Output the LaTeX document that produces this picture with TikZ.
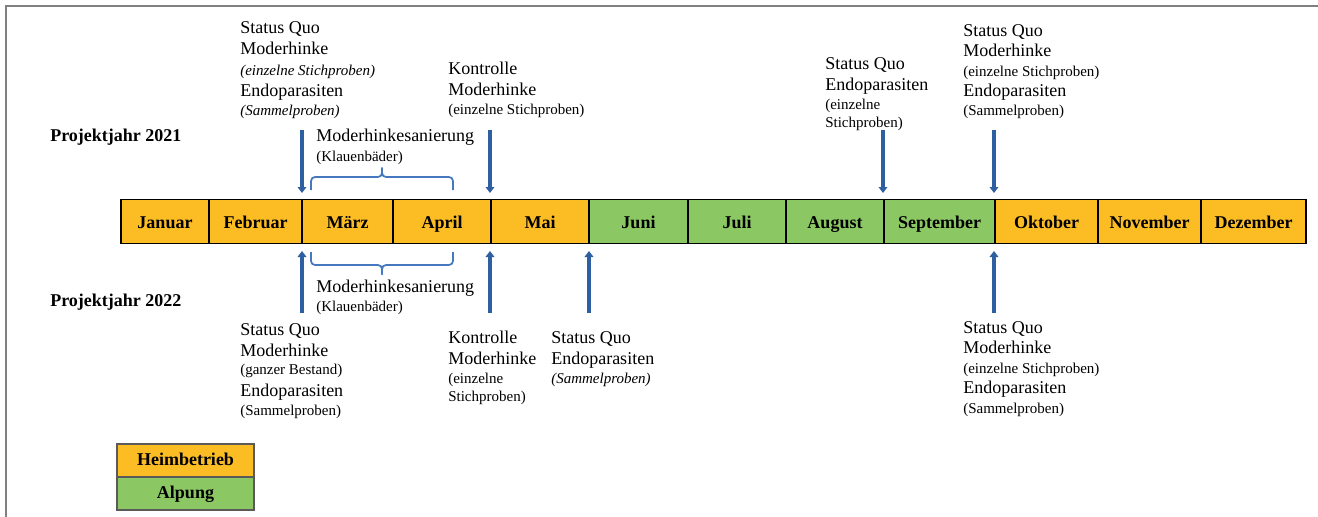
\documentclass[tikz,border=0pt]{standalone}
\usepackage{fontspec}
\setmainfont{Liberation Serif}
\usetikzlibrary{arrows.meta}
\definecolor{hb}{RGB}{252,189,36}
\definecolor{alp}{RGB}{139,200,99}
\definecolor{arrblue}{RGB}{46,95,160}
\definecolor{brblue}{RGB}{70,120,192}
\definecolor{framegray}{RGB}{128,128,128}
\definecolor{leggray}{RGB}{90,90,90}
\tikzset{
  txt/.style={anchor=west, inner sep=0pt, text height=0.68em, text depth=0pt},
  big/.style={txt, font=\fontsize{13.5}{16}\selectfont},
  sm/.style={txt, font=\fontsize{11.25}{13}\selectfont},
  smit/.style={txt, font=\fontsize{11.25}{13}\selectfont\itshape},
  yearlbl/.style={txt, font=\fontsize{13.5}{16}\selectfont\bfseries},
  monthtxt/.style={font=\fontsize{13.5}{16}\selectfont\bfseries, inner sep=0pt, text height=0.68em, text depth=0pt},
  mbox/.style={draw=black, line width=1.2pt},
  evarrow/.style={draw=arrblue, line width=2.3pt, -{Triangle[width=6.5pt,length=4.5pt]}},
  brace/.style={draw=brblue, line width=1.3pt, rounded corners=3pt},
  legbox/.style={draw=leggray, line width=1.2pt, minimum width=102.75pt, minimum height=24.75pt, inner sep=0pt, text height=0.68em, text depth=0pt, font=\fontsize{13.5}{16}\selectfont\bfseries}
}
\begin{document}
\begin{tikzpicture}[x=0.75pt,y=-0.75pt]
\useasboundingbox (0,0) rectangle (1318,517);
% frame
\draw[framegray, line width=1.5pt] (5.5,517) -- (5.5,6) -- (1318,6);

% months
\foreach \l/\r/\n/\c [count=\i] in {121/209/Januar/hb, 209/302/Februar/hb, 302/393/März/hb, 393/491/April/hb, 491/589/Mai/hb, 589/688/Juni/alp, 688/786/Juli/alp, 786/884/August/alp, 884/995/September/alp, 995/1098/Oktober/hb, 1098/1201/November/hb, 1201/1306/Dezember/hb}{
  \path[mbox, fill=\c] (\l,199.5) rectangle (\r,243.5);
  \node[monthtxt] (m\i) at ({(\l+\r)/2},223.5) {\n};
}

% year labels
\node[yearlbl] (y21) at (50,137) {Projektjahr 2021};
\node[yearlbl] (y22) at (50,302) {Projektjahr 2022};

% ---- 2021 texts
\node[big]  (t1a) at (240,29) {Status Quo};
\node[big]  (t1b) at (240,50) {Moderhinke};
\node[smit] (t1c) at (240,71) {(einzelne Stichproben)};
\node[big]  (t1d) at (240,92) {Endoparasiten};
\node[smit] (t1e) at (240,111) {(Sammelproben)};

\node[big] (t2a) at (448,70) {Kontrolle};
\node[big] (t2b) at (448,91) {Moderhinke};
\node[sm]  (t2c) at (448,110) {(einzelne Stichproben)};

\node[big] (t3a) at (316,137) {Moderhinkesanierung};
\node[sm]  (t3b) at (316,157) {(Klauenbäder)};

\node[big] (t4a) at (825,65) {Status Quo};
\node[big] (t4b) at (825,86) {Endoparasiten};
\node[sm]  (t4c) at (825,105) {(einzelne};
\node[sm]  (t4d) at (825,123) {Stichproben)};

\node[big] (t5a) at (963,32) {Status Quo};
\node[big] (t5b) at (963,52) {Moderhinke};
\node[sm]  (t5c) at (963,72) {(einzelne Stichproben)};
\node[big] (t5d) at (963,92) {Endoparasiten};
\node[sm]  (t5e) at (963,111) {(Sammelproben)};

% ---- 2022 texts
\node[big] (b3a) at (316,288) {Moderhinkesanierung};
\node[sm]  (b3b) at (316,307) {(Klauenbäder)};

\node[big] (b1a) at (240,331) {Status Quo};
\node[big] (b1b) at (240,352) {Moderhinke};
\node[sm]  (b1c) at (240,370) {(ganzer Bestand)};
\node[big] (b1d) at (240,392) {Endoparasiten};
\node[sm]  (b1e) at (240,411) {(Sammelproben)};

\node[big] (b2a) at (448,339) {Kontrolle};
\node[big] (b2b) at (448,360) {Moderhinke};
\node[sm]  (b2c) at (448,379) {(einzelne};
\node[sm]  (b2d) at (448,397) {Stichproben)};

\node[big]  (b4a) at (551,339) {Status Quo};
\node[big]  (b4b) at (551,360) {Endoparasiten};
\node[smit] (b4c) at (551,379) {(Sammelproben)};

\node[big] (b5a) at (963,329) {Status Quo};
\node[big] (b5b) at (963,349) {Moderhinke};
\node[sm]  (b5c) at (963,369) {(einzelne Stichproben)};
\node[big] (b5d) at (963,389) {Endoparasiten};
\node[sm]  (b5e) at (963,409) {(Sammelproben)};

% arrows 2021
\foreach \x [count=\k] in {302,490,883,994}{
  \coordinate (ts\k) at (\x,130);
  \coordinate (te\k) at (\x,193);
  \draw[evarrow] (ts\k) -- (te\k);
}
% arrows 2022
\foreach \x [count=\k] in {302,490,589,994}{
  \coordinate (bs\k) at (\x,313);
  \coordinate (be\k) at (\x,251);
  \draw[evarrow] (bs\k) -- (be\k);
}

% braces
\draw[brace] (311,190) -- (311,177) -- (382,177) -- (382,167.5);
\draw[brace] (382,167.5) -- (382,177) -- (453,177) -- (453,190);
\draw[brace] (311,252) -- (311,265) -- (382,265) -- (382,274.5);
\draw[brace] (382,274.5) -- (382,265) -- (453,265) -- (453,252);

% legend
\node[legbox, fill=hb]  (lh) at (185.5,460.5) {Heimbetrieb};
\node[legbox, fill=alp] (la) at (185.5,493.5) {Alpung};
\end{tikzpicture}
\end{document}
